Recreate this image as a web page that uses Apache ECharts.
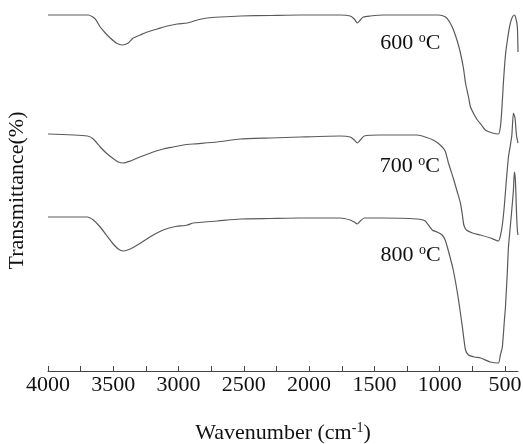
<!DOCTYPE html>
<html>
<head>
<meta charset="utf-8">
<script src="https://cdn.jsdelivr.net/npm/echarts@6/dist/echarts.min.js"></script>
<style>
  html, body { margin: 0; padding: 0; background: #fff; }
  #chart { width: 523px; height: 444px; }
</style>
</head>
<body>
<div id="chart"></div>
<script>
// wavenumber (cm-1) / transmittance (arbitrary, curves offset)
const w600 = [4000, 3691, 3638, 3600, 3561, 3523, 3477, 3431, 3385, 3347, 3293, 3240, 3163, 3087, 3010, 2933, 2857, 2780, 2681, 2527, 2297, 2068, 1761, 1685, 1654, 1631, 1608, 1585, 1532, 1432, 1147, 1009, 955, 924, 894, 863, 841, 818, 802, 779, 764, 734, 711, 680, 650, 596, 550, 535, 524, 512, 496, 481, 462, 443, 428, 417, 405, 400];
const t600 = [356, 356, 352, 344, 338, 333, 328, 326, 328, 333, 336, 339, 342, 345, 347, 348, 351, 353, 354, 355, 355.5, 356, 356, 355, 352, 348, 351, 354, 355, 356, 356, 356, 354, 349, 341, 329, 318, 303, 288, 274, 264, 256, 251, 246, 241, 238, 237, 244, 261, 288, 316, 331, 346, 354, 356, 353, 344, 319];

const w700 = [4000, 3699, 3653, 3600, 3554, 3507, 3462, 3423, 3370, 3316, 3255, 3194, 3117, 3041, 2964, 2888, 2704, 2527, 2297, 2068, 1761, 1685, 1654, 1631, 1608, 1578, 1455, 1172, 1111, 1050, 996, 958, 935, 896, 865, 841, 826, 815, 795, 749, 688, 611, 550, 535, 520, 504, 489, 473, 458, 447, 435, 423, 412, 405, 400];
const t700 = [237, 235, 232, 224, 218, 213, 209, 208, 210, 213, 216, 219, 222, 224, 226, 227, 229, 232, 233, 234, 235, 234, 231, 228, 231, 235, 236, 236, 234, 231, 226, 220, 209, 193, 179, 168, 156, 146, 141, 138, 136, 133, 130, 135, 146, 166, 191, 214, 226, 236, 258, 253, 236, 231, 228];

const w800 = [4000, 3699, 3653, 3600, 3554, 3507, 3462, 3423, 3370, 3316, 3255, 3194, 3117, 3041, 2933, 2888, 2704, 2527, 2297, 2068, 1761, 1685, 1654, 1631, 1608, 1578, 1455, 1172, 1111, 1057, 1019, 981, 958, 935, 896, 859, 826, 802, 779, 734, 688, 611, 550, 535, 520, 504, 496, 481, 473, 458, 451, 435, 428, 420, 412, 405, 400];
const t800 = [154, 154, 151, 144, 136, 128, 122, 120, 122, 126, 131, 136, 141, 144, 146, 148, 150, 152, 152.5, 153, 153, 151, 149, 147, 150, 153, 153, 152, 150, 141, 139, 136, 131, 121, 101, 74, 44, 21, 16, 14, 13, 9, 8, 16, 24, 51, 64, 101, 124, 146, 156, 181, 199, 191, 161, 141, 136];

const majorTicks = [4000, 3500, 3000, 2500, 2000, 1500, 1000, 500];
const allTicks = [4000, 3750, 3500, 3250, 3000, 2750, 2500, 2250, 2000, 1750, 1500, 1250, 1000, 750, 500];

const seriesNames = ['600', '700', '800'];
const labelAt = [[1225, 328], [1228, 205], [1222, 116]];

const FONT = '"Liberation Serif", "Times New Roman", serif';
const LINE = '#5a5a5a';
const SUP = { fontFamily: FONT, fontSize: 14, color: '#111', padding: [0, 0, 10, 0] };

const pair = (xs, ys) => xs.map((x, i) => [x, ys[i]]);
const curves = [pair(w600, t600), pair(w700, t700), pair(w800, t800)];

const chart = echarts.init(document.getElementById('chart'), null, { renderer: 'canvas' });

chart.setOption({
  animation: false,
  backgroundColor: '#fff',
  grid: { left: 48, right: 5, top: 10, bottom: 73, containLabel: false, outerBoundsMode: 'none' },
  xAxis: {
    type: 'value',
    inverse: true,
    min: 400,
    max: 4000,
    name: 'Wavenumber (cm{s|-1})',
    nameLocation: 'middle',
    nameGap: 50,
    nameTextStyle: { fontFamily: FONT, fontSize: 22, color: '#111', rich: { s: SUP } },
    axisLine: { lineStyle: { color: '#444', width: 1 } },
    axisTick: { inside: true, length: 5, customValues: allTicks, lineStyle: { color: '#444' } },
    axisLabel: {
      customValues: majorTicks,
      formatter: v => String(v),
      fontFamily: FONT, fontSize: 22, color: '#111', margin: 3,
    },
    splitLine: { show: false },
  },
  yAxis: {
    type: 'value',
    min: 0,
    max: 361,
    name: 'Transmittance(%)',
    nameLocation: 'middle',
    nameRotate: 90,
    nameGap: 20,
    nameTextStyle: { fontFamily: FONT, fontSize: 22, color: '#111' },
    axisLine: { show: false },
    axisTick: { show: false },
    axisLabel: { show: false },
    splitLine: { show: false },
  },
  series: curves.map((data, i) => ({
    name: seriesNames[i],
    type: 'line',
    data,
    showSymbol: false,
    smooth: 0.2,
    lineStyle: { color: LINE, width: 1.2 },
    markPoint: {
      symbol: 'circle',
      symbolSize: 0,
      data: [{ coord: labelAt[i] }],
      label: {
        show: true,
        position: 'inside',
        formatter: seriesNames[i] + ' {s|o}C',
        fontFamily: FONT, fontSize: 22, color: '#111',
        rich: { s: SUP },
      },
    },
  })),
});
</script>
</body>
</html>
